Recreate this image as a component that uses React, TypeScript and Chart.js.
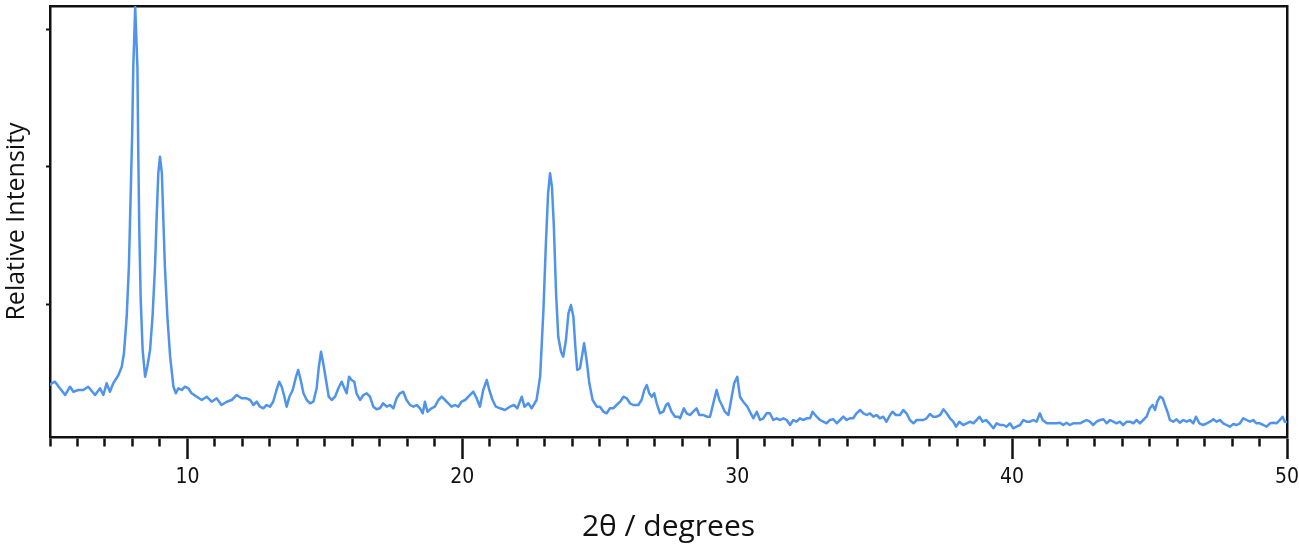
import React, { useEffect, useRef } from "react";
import { Chart, registerables } from "chart.js";

Chart.register(...registerables);

const xMin = 5;
const xMax = 50;
const yMin = 0;
const yMax = 431;
const xMajorLabels = [10, 20, 30, 40, 50];
const yTickValues = [133, 271, 408];

// [2θ (degrees), relative intensity]
const xrdPattern: [number, number][] = [
  [5.0, 52], [5.06, 53.7], [5.18, 55.3], [5.36, 48.7], [5.55, 42], [5.73, 50.3], [5.85, 45.3], [6.03, 47], [6.21, 47], [6.39, 50.3],
  [6.64, 42], [6.82, 48.7], [6.94, 42], [7.06, 53.7], [7.18, 45.3], [7.3, 53.7], [7.49, 62], [7.61, 70.3], [7.69, 83.7], [7.79, 120.3],
  [7.87, 170.3], [7.93, 237], [7.99, 303.7], [8.03, 370.3], [8.1, 430], [8.18, 370], [8.21, 287], [8.25, 203.7], [8.3, 137], [8.37, 87],
  [8.46, 60.3], [8.54, 70.3], [8.64, 87], [8.73, 120.3], [8.82, 170.3], [8.88, 220.3], [8.94, 263.7], [9.0, 280.3], [9.07, 263.7], [9.12, 220.3],
  [9.18, 170.3], [9.27, 120.3], [9.37, 80.3], [9.49, 50.3], [9.58, 43.7], [9.67, 48.7], [9.79, 47], [9.91, 50.3], [10.03, 48.7], [10.15, 43.7],
  [10.34, 40.3], [10.52, 37], [10.7, 40.3], [10.88, 35.3], [11.06, 38.7], [11.24, 32], [11.43, 35.3], [11.61, 37], [11.79, 42], [11.97, 38.7],
  [12.15, 38.7], [12.28, 37], [12.4, 32], [12.52, 35.3], [12.64, 30.3], [12.76, 28.7], [12.88, 32], [13.0, 30.3], [13.12, 35.3], [13.24, 47],
  [13.34, 55.3], [13.43, 50.3], [13.51, 42], [13.61, 30.3], [13.71, 40.3], [13.83, 47], [13.95, 60.3], [14.03, 67], [14.12, 57], [14.22, 43.7],
  [14.34, 37], [14.46, 33.7], [14.58, 35.3], [14.7, 48.7], [14.78, 70.3], [14.86, 85.3], [14.94, 73.7], [15.04, 57], [15.14, 40.3], [15.25, 37],
  [15.37, 40.3], [15.49, 48.7], [15.61, 55.3], [15.71, 48.7], [15.79, 43.7], [15.88, 60.3], [15.97, 57], [16.07, 55.3], [16.15, 43.7], [16.28, 37],
  [16.4, 42], [16.52, 43.7], [16.64, 40.3], [16.76, 30.3], [16.88, 27.7], [17.0, 28.7], [17.12, 33.7], [17.25, 30.3], [17.37, 32], [17.49, 28.7],
  [17.61, 38.7], [17.73, 43.7], [17.85, 45.3], [17.97, 37], [18.1, 32], [18.22, 30.3], [18.34, 32], [18.46, 28.7], [18.56, 23.7], [18.64, 35.3],
  [18.73, 25.3], [18.88, 28.7], [19.0, 30.3], [19.13, 37], [19.25, 40.3], [19.37, 37], [19.49, 33.7], [19.61, 30.3], [19.73, 32], [19.85, 30.3],
  [19.97, 35.3], [20.1, 37], [20.22, 40.3], [20.4, 45.3], [20.52, 38.7], [20.64, 30.3], [20.76, 47], [20.89, 57], [20.98, 47], [21.1, 37],
  [21.22, 30.3], [21.37, 28.7], [21.55, 27], [21.73, 30.3], [21.88, 32], [22.0, 28.7], [22.16, 40.3], [22.26, 30.3], [22.4, 33.7], [22.52, 28.7],
  [22.7, 37], [22.83, 60.3], [22.95, 127], [23.04, 193.7], [23.12, 243.7], [23.19, 263.7], [23.26, 250.3], [23.33, 210.3], [23.41, 143.7], [23.49, 100.3],
  [23.59, 85.3], [23.67, 80.3], [23.77, 97], [23.86, 123.7], [23.95, 132], [24.04, 120.3], [24.11, 90.3], [24.18, 67], [24.28, 68.7], [24.35, 80.3],
  [24.43, 93.7], [24.52, 77], [24.62, 53.7], [24.74, 37], [24.89, 30.3], [25.01, 30.3], [25.13, 25.3], [25.25, 23.7], [25.37, 28.7], [25.49, 28.7],
  [25.61, 32], [25.74, 35.3], [25.86, 40.3], [25.98, 38.7], [26.1, 33.7], [26.22, 32], [26.4, 32], [26.52, 37], [26.62, 47], [26.71, 52],
  [26.8, 43.7], [26.89, 40.3], [26.98, 43.7], [27.07, 33.7], [27.19, 23.7], [27.31, 25.3], [27.41, 32], [27.49, 33.7], [27.61, 25.3], [27.74, 20.3],
  [27.86, 20.3], [27.92, 18.7], [28.06, 28.7], [28.16, 23.7], [28.28, 22], [28.4, 25.3], [28.52, 28.7], [28.62, 22], [28.77, 22], [28.89, 20.3],
  [29.01, 20.3], [29.13, 33.7], [29.25, 47], [29.35, 37], [29.47, 30.3], [29.55, 25.3], [29.68, 22], [29.8, 40.3], [29.89, 53.7], [30.0, 60.3],
  [30.1, 40.3], [30.22, 35.3], [30.37, 30.3], [30.49, 23.7], [30.59, 18.7], [30.71, 25.3], [30.83, 17], [30.95, 18.7], [31.07, 23.7], [31.19, 23.7],
  [31.31, 17], [31.43, 18.7], [31.56, 17], [31.68, 18.7], [31.8, 17], [31.92, 12], [32.04, 17], [32.16, 15.3], [32.28, 18.7], [32.4, 17],
  [32.53, 18.7], [32.65, 18.7], [32.74, 25.3], [32.89, 20.3], [33.01, 17], [33.13, 15.3], [33.25, 13.7], [33.37, 17], [33.5, 17.7], [33.62, 13.7],
  [33.74, 17], [33.86, 20.3], [33.98, 17], [34.1, 18.7], [34.22, 18.7], [34.34, 23.7], [34.47, 27], [34.59, 23.7], [34.71, 22], [34.83, 23.7],
  [34.95, 20.3], [35.07, 22], [35.19, 18.7], [35.31, 20.3], [35.43, 15.3], [35.56, 22], [35.65, 25.3], [35.77, 22], [35.92, 22], [36.04, 27],
  [36.16, 23.7], [36.28, 17], [36.41, 13.7], [36.53, 17], [36.65, 17], [36.77, 17], [36.89, 18.7], [37.01, 23], [37.13, 20.3], [37.25, 20.3],
  [37.38, 22], [37.5, 27.7], [37.62, 23.7], [37.74, 18.7], [37.86, 15.3], [37.96, 10.3], [38.08, 15.3], [38.22, 12], [38.35, 13.7], [38.47, 15.3],
  [38.59, 13.7], [38.71, 17], [38.81, 20.3], [38.93, 15.3], [39.05, 17], [39.17, 13.7], [39.32, 8.7], [39.44, 13.7], [39.56, 12], [39.68, 12],
  [39.8, 10.3], [39.92, 13.7], [40.04, 8.7], [40.16, 10.3], [40.29, 12], [40.41, 17], [40.53, 15.3], [40.65, 15.3], [40.77, 17], [40.89, 15.3],
  [41.01, 23.7], [41.11, 17], [41.26, 13.7], [41.38, 13.7], [41.5, 13.7], [41.62, 13.7], [41.74, 14.3], [41.86, 12], [41.98, 14.3], [42.1, 12],
  [42.22, 13.7], [42.35, 13.7], [42.47, 13.7], [42.59, 15.3], [42.71, 17], [42.83, 15.3], [42.95, 12], [43.07, 15.3], [43.2, 17], [43.32, 17.7],
  [43.44, 13.7], [43.56, 17], [43.68, 15.3], [43.8, 13.7], [43.92, 15.3], [44.04, 12], [44.17, 15.3], [44.29, 15.3], [44.41, 13.7], [44.53, 17],
  [44.65, 13.7], [44.77, 17], [44.89, 20.3], [45.01, 28.7], [45.11, 32], [45.2, 27], [45.28, 35.3], [45.38, 40.3], [45.48, 38.7], [45.56, 32],
  [45.65, 25.3], [45.74, 17], [45.86, 15.3], [45.98, 17.7], [46.1, 14.3], [46.23, 17], [46.35, 15.3], [46.47, 17], [46.59, 13.7], [46.69, 20.3],
  [46.81, 13.7], [46.95, 12], [47.08, 13.7], [47.2, 15.3], [47.32, 17.7], [47.44, 15.3], [47.56, 17], [47.68, 13.7], [47.8, 12], [47.92, 10.3],
  [48.05, 13], [48.17, 12], [48.29, 13.7], [48.41, 18.7], [48.53, 17], [48.65, 15.3], [48.77, 17], [48.89, 13.7], [49.01, 13.7], [49.14, 12],
  [49.26, 10.3], [49.38, 13.7], [49.5, 14.3], [49.62, 13.7], [49.74, 17], [49.84, 20.3], [49.92, 15.3], [50.0, 15],
];

const axisColor = "#111111";
const lineColor = "#4f93ea";

export default function App() {
  const canvasRef = useRef<HTMLCanvasElement | null>(null);

  useEffect(() => {
    document.body.style.margin = "0";
    const canvas = canvasRef.current;
    if (!canvas) return;
    const chart = new Chart(canvas, {
      type: "line",
      data: {
        datasets: [
          {
            data: xrdPattern.map(([x, y]) => ({ x, y })),
            borderColor: lineColor,
            borderWidth: 2.5,
            borderJoinStyle: "round",
            borderCapStyle: "round",
            pointRadius: 0,
            tension: 0,
            fill: false,
          },
        ],
      },
      options: {
        animation: false,
        responsive: true,
        maintainAspectRatio: false,
        layout: { padding: { top: 6, right: 12, left: 0, bottom: 0 } },
        plugins: {
          legend: { display: false },
          tooltip: { enabled: false },
        },
        scales: {
          x: {
            type: "linear",
            position: "bottom",
            min: xMin,
            max: xMax,
            afterFit: (s: any) => {
              s.height = 110;
              s.paddingLeft = 0;
              s.paddingRight = 0;
            },
            ticks: {
              stepSize: 1,
              autoSkip: false,
              maxRotation: 0,
              padding: 6,
              color: axisColor,
              font: { family: "'Liberation Sans Narrow', 'DejaVu Sans Condensed', sans-serif", size: 21 },
              callback: (v: any) => (xMajorLabels.includes(Number(v)) ? String(v) : ""),
            },
            grid: {
              drawOnChartArea: false,
              drawTicks: true,
              tickLength: 22,
              tickWidth: 2.5,
              tickColor: axisColor,
              tickBorderDash: (ctx: any) =>
                ctx.tick && xMajorLabels.includes(Number(ctx.tick.value)) ? [] : [8, 60],
            },
            border: { display: true, color: axisColor, width: 2.5 },
            title: {
              display: true,
              text: "2θ / degrees",
              color: axisColor,
              font: { family: "'Open Sans', sans-serif", size: 30 },
              padding: { top: 2, bottom: 2 },
            },
          },
          y: {
            type: "linear",
            position: "left",
            min: yMin,
            max: yMax,
            afterBuildTicks: (s: any) => {
              s.ticks = yTickValues.map((v) => ({ value: v }));
            },
            afterFit: (s: any) => {
              s.width = 50;
              s.paddingTop = 0;
              s.paddingBottom = 0;
            },
            ticks: { display: false },
            grid: {
              drawOnChartArea: false,
              drawTicks: true,
              tickLength: 4,
              tickWidth: 2,
              tickColor: axisColor,
            },
            border: { display: true, color: axisColor, width: 2.5 },
            title: {
              display: true,
              text: "Relative Intensity",
              color: axisColor,
              font: { family: "'Open Sans', sans-serif", size: 25 },
              padding: { top: 2, bottom: 2 },
            },
          },
          x2: {
            type: "linear",
            position: "top",
            min: xMin,
            max: xMax,
            afterFit: (s: any) => {
              s.height = 0;
              s.paddingLeft = 0;
              s.paddingRight = 0;
            },
            ticks: { display: false },
            grid: { display: false, drawTicks: false },
            border: { display: true, color: axisColor, width: 2.5 },
          },
          y2: {
            type: "linear",
            position: "right",
            min: yMin,
            max: yMax,
            afterFit: (s: any) => {
              s.width = 0;
              s.paddingTop = 0;
              s.paddingBottom = 0;
            },
            ticks: { display: false },
            grid: { display: false, drawTicks: false },
            border: { display: true, color: axisColor, width: 2.5 },
          },
        },
      } as any,
    });
    return () => chart.destroy();
  }, []);

  return (
    <div style={{ width: 1299, height: 547, position: "relative" }}>
      <canvas ref={canvasRef} />
    </div>
  );
}
